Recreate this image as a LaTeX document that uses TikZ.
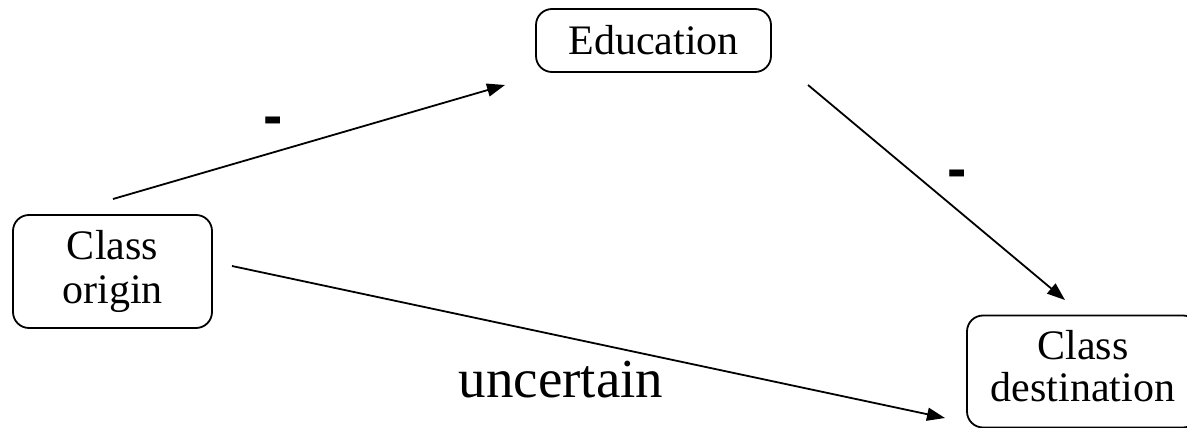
\documentclass[tikz,border=0pt]{standalone}
\usepackage{fontspec}
\setmainfont{Liberation Serif}
\newfontfamily\dashfont{Liberation Sans}
\usetikzlibrary{arrows.meta}
\tikzset{
  boxnode/.style={draw, line width=1.8pt, rounded corners=16pt, align=center,
    font=\fontsize{42}{44}\selectfont, inner sep=0pt},
  conn/.style={line width=1.8pt, -{Triangle[length=18pt,width=13pt]}},
  signlabel/.style={font=\dashfont\bfseries\fontsize{58}{60}\selectfont, inner sep=0pt},
  biglabel/.style={font=\fontsize{55}{60}\selectfont, inner sep=0pt, anchor=base}
}
\begin{document}
\begin{tikzpicture}[x=1pt,y=-1pt]
\useasboundingbox (0,0) rectangle (1187,428);
\clip (0,0) rectangle (1187,428);
\node[boxnode, minimum width=235pt, minimum height=63pt] (edu) at (653.5,40.5) {Education};
\node[boxnode, minimum width=199pt, minimum height=113pt] (origin) at (112.5,271.5) {Class\\origin};
\node[boxnode, minimum width=232pt, minimum height=112pt] (dest) at (1083,371.5) {\raisebox{10pt}{\begin{tabular}{@{}c@{}}Class\\[-2pt]destination\end{tabular}}};
\coordinate (o1) at (113,199);
\coordinate (e1) at (505,85);
\coordinate (e2) at (808,85);
\coordinate (d1) at (1065,300);
\coordinate (o2) at (232,266);
\coordinate (d2) at (945,418);
\draw[conn] (o1) -- (e1);
\draw[conn] (e2) -- (d1);
\draw[conn] (o2) -- (d2);
\node[signlabel] (s1) at (273,126.5) {-};
\node[signlabel] (s2) at (957,179.5) {-};
\node[biglabel] (unc) at (561,397) {uncertain};
\end{tikzpicture}
\end{document}
